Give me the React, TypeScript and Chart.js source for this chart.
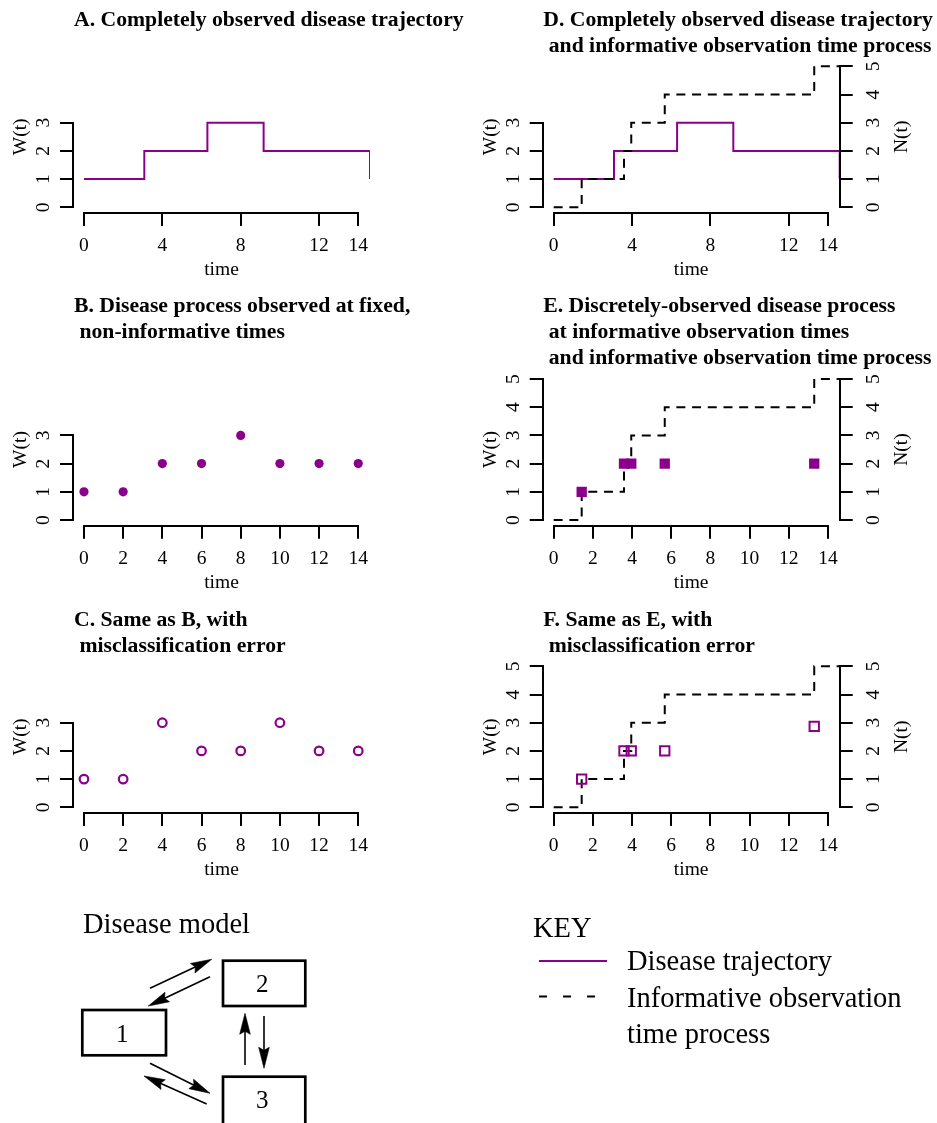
import React, { useEffect, useRef } from "react";
import { Chart, registerables } from "chart.js";

Chart.register(...registerables);

const FONT = "'Liberation Serif', 'Times New Roman', Times, serif";
Chart.defaults.font.family = FONT;
Chart.defaults.color = "#000";

const PURPLE = "#8B008B";

// ---------- tick labels ----------
const xTicksCoarse = [0, 4, 8, 12, 14];
const xTicksFine = [0, 2, 4, 6, 8, 10, 12, 14];
const wTicksShort = [0, 1, 2, 3];
const wTicksLong = [0, 1, 2, 3, 4, 5];
const nTicks = [0, 1, 2, 3, 4, 5];

// ---------- completely observed disease trajectory W(t) ----------
const trajTimes = [0, 3.08, 6.3, 9.17, 14.6];
const trajStates = [1, 2, 3, 2, 1];

// ---------- informative observation time counting process N(t) ----------
const countTimes = [0, 1.43, 3.59, 3.96, 5.67, 13.3, 14.6];
const countValues = [0, 1, 2, 3, 4, 5, 5];

// ---------- fixed, non-informative observation times (B, C) ----------
const fixedTimes = [0, 2, 4, 6, 8, 10, 12, 14];
const fixedStatesB = [1, 1, 2, 2, 3, 2, 2, 2];
const fixedStatesC = [1, 1, 3, 2, 2, 3, 2, 2];

// ---------- informative observation times (E, F) ----------
const obsTimes = [1.43, 3.59, 3.96, 5.67, 13.3];
const obsStatesE = [1, 2, 2, 2, 2];
const obsStatesF = [1, 2, 2, 2, 2.87];

// ---------- titles ----------
const titleA = ["A. Completely observed disease trajectory"];
const titleB = ["B. Disease process observed at fixed,", " non-informative times"];
const titleC = ["C. Same as B, with", " misclassification error"];
const titleD = ["D. Completely observed disease trajectory", " and informative observation time process"];
const titleE = [
  "E. Discretely-observed disease process",
  " at informative observation times",
  " and informative observation time process",
];
const titleF = ["F. Same as E, with", " misclassification error"];

// ---------- layout constants ----------
const X_MIN = -0.56;
const X_MAX = 14.6;
const Y_MIN = -0.2;
const Y_MAX = 5.2;
const WL = 50;
const WR = 70;
const HB = 70;
const TICK_LEN = 13;
const TICK_FONT = 19.5;
const TITLE_FONT = 21.7;
const TITLE_LINE = 25.6;

const pts = (xs: number[], ys: number[]) => xs.map((x, i) => ({ x, y: ys[i] }));

const trajectoryDataset = () => ({
  label: "Disease trajectory",
  data: pts(trajTimes, trajStates),
  stepped: "before",
  borderColor: PURPLE,
  borderWidth: 2,
  pointRadius: 0,
  fill: false,
  clip: 0,
  order: 1,
});

const countDataset = () => ({
  label: "Informative observation time process",
  data: pts(countTimes, countValues),
  stepped: "before",
  borderColor: "#000",
  borderWidth: 2,
  borderDash: [9, 6.7],
  pointRadius: 0,
  fill: false,
  clip: 0,
  order: 0,
});

const pointDataset = (xs: number[], ys: number[], style: any) => ({
  label: "Observed state",
  data: pts(xs, ys),
  showLine: false,
  order: -1,
  ...style,
});

type Box = { left: number; top: number; width: number; height: number };
type Area = { l: number; t: number; r: number; b: number };
interface Spec {
  box: Box;
  area: Area;
  xTicks: number[];
  wTicks: number[];
  showN: boolean;
  title: string[];
  titleX: number;
  titleY: number;
  datasets: any[];
}

const colLeft = { left: 0, width: 470, l: 73, r: 370 };
const colRight = { left: 470, width: 467, l: 542.7, r: 839.7 };
const row1 = { top: 0, height: 290, t: 60.66, b: 212.94, ty: 26.3 };
const row2 = { top: 290, height: 310, t: 373.36, b: 525.64, ty: 312.3 };
const row3 = { top: 600, height: 290, t: 660.7, b: 812.9, ty: 626.3 };

function mk(col: any, row: any, rest: any): Spec {
  return {
    box: { left: col.left, top: row.top, width: col.width, height: row.height },
    area: { l: col.l, t: row.t, r: col.r, b: row.b },
    titleX: col.left === 0 ? 74 : 543.3,
    titleY: row.ty,
    ...rest,
  };
}

const specs: Spec[] = [
  mk(colLeft, row1, {
    xTicks: xTicksCoarse, wTicks: wTicksShort, showN: false, title: titleA,
    datasets: [trajectoryDataset()],
  }),
  mk(colLeft, row2, {
    xTicks: xTicksFine, wTicks: wTicksShort, showN: false, title: titleB,
    datasets: [pointDataset(fixedTimes, fixedStatesB, {
      pointStyle: "circle", pointRadius: 4.6, pointBackgroundColor: PURPLE, pointBorderWidth: 0,
    })],
  }),
  mk(colLeft, row3, {
    xTicks: xTicksFine, wTicks: wTicksShort, showN: false, title: titleC,
    datasets: [pointDataset(fixedTimes, fixedStatesC, {
      pointStyle: "circle", pointRadius: 4.3, pointBackgroundColor: "rgba(0,0,0,0)",
      pointBorderColor: PURPLE, pointBorderWidth: 2.2,
    })],
  }),
  mk(colRight, row1, {
    xTicks: xTicksCoarse, wTicks: wTicksShort, showN: true, title: titleD,
    datasets: [trajectoryDataset(), countDataset()],
  }),
  mk(colRight, row2, {
    xTicks: xTicksFine, wTicks: wTicksLong, showN: true, title: titleE,
    datasets: [countDataset(), pointDataset(obsTimes, obsStatesE, {
      pointStyle: "rect", pointRadius: 7.3, pointBackgroundColor: PURPLE, pointBorderWidth: 0,
    })],
  }),
  mk(colRight, row3, {
    xTicks: xTicksFine, wTicks: wTicksLong, showN: true, title: titleF,
    datasets: [countDataset(), pointDataset(obsTimes, obsStatesF, {
      pointStyle: "rect", pointRadius: 6.6, pointBackgroundColor: "rgba(0,0,0,0)",
      pointBorderColor: PURPLE, pointBorderWidth: 2,
    })],
  }),
];

const rPanelPlugin = {
  id: "rPanel",
  afterDraw(chart: any, _args: any, o: any) {
    const { ctx, chartArea: a, scales } = chart;
    ctx.save();
    ctx.strokeStyle = "#000";
    ctx.lineWidth = 2;
    ctx.lineCap = "butt";
    const axLine = (scale: any, horizontal: boolean, pos: number) => {
      const ts = scale.ticks;
      const p0 = scale.getPixelForValue(ts[0].value);
      const p1 = scale.getPixelForValue(ts[ts.length - 1].value);
      const q = Math.round(pos);
      ctx.beginPath();
      if (horizontal) {
        ctx.moveTo(Math.round(p0) - 1, q);
        ctx.lineTo(Math.round(p1) + 1, q);
      } else {
        ctx.moveTo(q, Math.round(p0) + 1);
        ctx.lineTo(q, Math.round(p1) - 1);
      }
      ctx.stroke();
    };
    axLine(scales.x, true, a.bottom);
    axLine(scales.y, false, a.left);
    if (scales.yN) axLine(scales.yN, false, a.right);

    ctx.fillStyle = "#000";
    ctx.font = `bold ${TITLE_FONT}px ${FONT}`;
    ctx.textAlign = "left";
    ctx.textBaseline = "alphabetic";
    (o.title as string[]).forEach((line, i) => ctx.fillText(line, o.titleX, o.titleY + i * TITLE_LINE));

    ctx.font = `${TICK_FONT}px ${FONT}`;
    ctx.textAlign = "center";
    ctx.fillText("time", (a.left + a.right) / 2, a.bottom + 62);

    const midY = (a.top + a.bottom) / 2;
    const vText = (txt: string, cx: number) => {
      ctx.save();
      ctx.translate(cx, midY);
      ctx.rotate(-Math.PI / 2);
      ctx.textAlign = "center";
      ctx.textBaseline = "middle";
      ctx.fillText(txt, 0, 0);
      ctx.restore();
    };
    vText("W(t)", a.left - 52.3);
    if (o.showN) vText("N(t)", a.right + 62);
    ctx.restore();
  },
};

function axisCommon(tickValues: number[]) {
  return {
    type: "linear",
    afterBuildTicks: (s: any) => {
      s.ticks = tickValues.map((v) => ({ value: v }));
    },
    grid: {
      drawOnChartArea: false,
      drawTicks: true,
      tickLength: TICK_LEN,
      color: "#000",
      lineWidth: 2,
    },
    border: { display: false },
  };
}

function Panel({ spec }: { spec: Spec }) {
  const ref = useRef<HTMLCanvasElement>(null);
  useEffect(() => {
    const canvas = ref.current;
    if (!canvas) return;
    const { box, area } = spec;
    const scales: any = {
      x: {
        ...axisCommon(spec.xTicks),
        position: "bottom",
        min: X_MIN,
        max: X_MAX,
        ticks: { autoSkip: false, maxRotation: 0, minRotation: 0, padding: 8.5, color: "#000", font: { size: TICK_FONT } },
        afterFit: (s: any) => {
          s.height = HB;
        },
      },
      y: {
        ...axisCommon(spec.wTicks),
        position: "left",
        min: Y_MIN,
        max: Y_MAX,
        ticks: { autoSkip: false, minRotation: 90, maxRotation: 90, crossAlign: "center", padding: 11, color: "#000", font: { size: TICK_FONT } },
        afterFit: (s: any) => {
          s.width = WL;
        },
      },
    };
    if (spec.showN) {
      scales.yN = {
        ...axisCommon(nTicks),
        position: "right",
        min: Y_MIN,
        max: Y_MAX,
        ticks: { autoSkip: false, minRotation: 90, maxRotation: 90, crossAlign: "center", padding: 16.6, color: "#000", font: { size: TICK_FONT } },
        afterFit: (s: any) => {
          s.width = WR;
        },
      };
    }
    const pad = {
      left: area.l - box.left - WL,
      right: box.left + box.width - area.r - (spec.showN ? WR : 0),
      top: area.t - box.top,
      bottom: box.top + box.height - area.b - HB,
    };
    const chart = new Chart(canvas, {
      type: "line",
      data: { datasets: spec.datasets },
      options: {
        animation: false,
        responsive: false,
        maintainAspectRatio: false,
        devicePixelRatio: 1,
        events: [],
        layout: { padding: pad },
        scales,
        plugins: {
          legend: { display: false },
          tooltip: { enabled: false },
          rPanel: {
            title: spec.title,
            titleX: spec.titleX - box.left,
            titleY: spec.titleY - box.top,
            showN: spec.showN,
          },
        },
      } as any,
      plugins: [rPanelPlugin],
    } as any);
    return () => chart.destroy();
  }, [spec]);
  return (
    <canvas
      ref={ref}
      width={spec.box.width}
      height={spec.box.height}
      style={{ position: "absolute", left: spec.box.left, top: spec.box.top, width: spec.box.width, height: spec.box.height }}
    />
  );
}

// ---------- disease model diagram & key (layout constants) ----------
const modelBoxes = [
  { label: "1", x: 82.3, y: 1010, w: 83.7, h: 45.3 },
  { label: "2", x: 223, y: 960.7, w: 82.3, h: 45.3 },
  { label: "3", x: 223, y: 1076.7, w: 82.3, h: 50 },
];
const modelArrows = [
  [150, 988.3, 211.7, 959.3],
  [210, 976.7, 148.3, 1006],
  [245, 1065, 245, 1013.3],
  [264, 1016, 264, 1068.3],
  [150, 1063.3, 210, 1093.3],
  [206.7, 1104, 144, 1076],
];

function Arrow({ a }: { a: number[] }) {
  const [x1, y1, x2, y2] = a;
  const dx = x2 - x1;
  const dy = y2 - y1;
  const len = Math.hypot(dx, dy);
  const ux = dx / len;
  const uy = dy / len;
  const L = 21;
  const W = 5.3;
  const bx = x2 - ux * L;
  const by = y2 - uy * L;
  const nx = -uy;
  const ny = ux;
  const head = `${x2},${y2} ${bx + nx * W},${by + ny * W} ${x2 - ux * (L - 3)},${y2 - uy * (L - 3)} ${bx - nx * W},${by - ny * W}`;
  return (
    <g>
      <line x1={x1} y1={y1} x2={x2 - ux * 10} y2={y2 - uy * 10} stroke="#000" strokeWidth={1.6} />
      <polygon points={head} fill="#000" stroke="#000" strokeWidth={0.6} strokeLinejoin="miter" />
    </g>
  );
}

function Diagram() {
  return (
    <svg
      width={937}
      height={243}
      viewBox="0 880 937 243"
      style={{ position: "absolute", left: 0, top: 880 }}
      fontFamily={FONT}
    >
      <text x={83} y={933} fontSize={28.5} fill="#000">Disease model</text>
      {modelBoxes.map((b) => (
        <g key={b.label}>
          <rect x={b.x} y={b.y} width={b.w} height={b.h} fill="none" stroke="#000" strokeWidth={2.7} />
          <text x={b.x + b.w / 2 - 2} y={b.label === "3" ? 1108.3 : b.y + b.h / 2 + 9} fontSize={25} textAnchor="middle" fill="#000">
            {b.label}
          </text>
        </g>
      ))}
      {modelArrows.map((a, i) => (
        <Arrow key={i} a={a} />
      ))}

      <text x={533} y={936.7} fontSize={28.5} fill="#000">KEY</text>
      <line x1={539} y1={961} x2={607} y2={961} stroke={PURPLE} strokeWidth={2} />
      <text x={627} y={970} fontSize={28.5} fill="#000">Disease trajectory</text>
      <line x1={539} y1={996.5} x2={597} y2={996.5} stroke="#000" strokeWidth={2} strokeDasharray="8 16" />
      <text x={627} y={1006.7} fontSize={28.5} fill="#000">Informative observation</text>
      <text x={627} y={1043.3} fontSize={28.5} fill="#000">time process</text>
    </svg>
  );
}

export default function App() {
  return (
    <div style={{ position: "absolute", left: 0, top: 0, width: 937, height: 1123, background: "#fff", overflow: "hidden" }}>
      {specs.map((s, i) => (
        <Panel key={i} spec={s} />
      ))}
      <Diagram />
    </div>
  );
}
